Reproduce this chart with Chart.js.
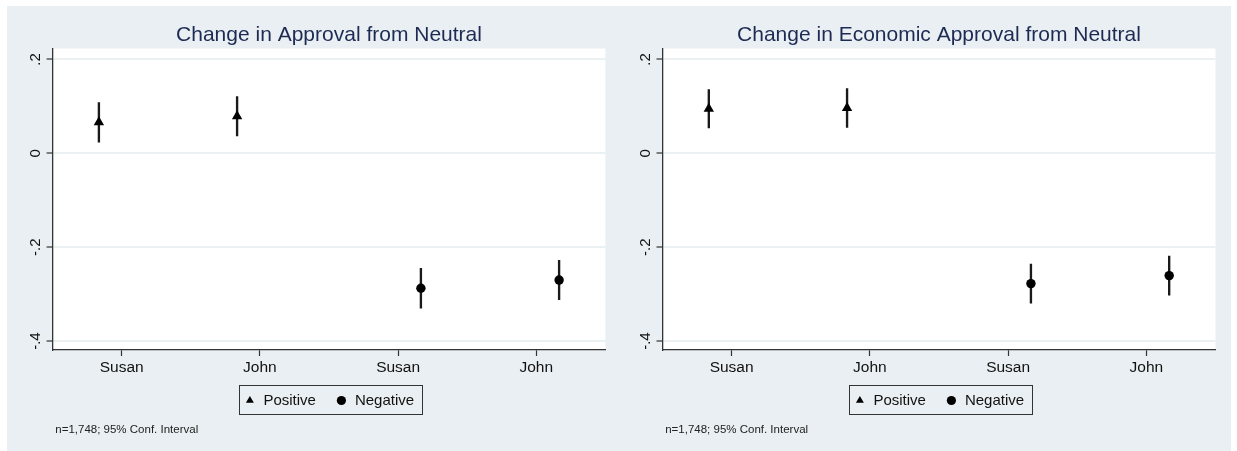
<!DOCTYPE html>
<html>
<head>
<meta charset="utf-8">
<script src="https://cdn.jsdelivr.net/npm/chart.js@4.4.1/dist/chart.umd.min.js"></script>
<style>
  html, body { margin: 0; padding: 0; background: #ffffff; overflow: hidden; width: 1237px; height: 451px; }
  #backdrop { position: absolute; left: 7px; top: 6px; width: 1224px; height: 445px; background: #e9eff2; }
  canvas { position: absolute; top: 0; }
  #approval { left: 0; }
  #economic { left: 620px; }
</style>
</head>
<body>
<div id="backdrop"></div>
<canvas id="approval" width="658" height="451"></canvas>
<canvas id="economic" width="638" height="451"></canvas>
<script>
// Category labels along the bottom axis (first two: Positive, last two: Negative)
const categories = ['Susan', 'John', 'Susan', 'John'];
const yTickValues = [-0.4, -0.2, 0, 0.2];
const yTickLabels = ['-.4', '-.2', '0', '.2'];
const seriesNames = ['Positive', 'Negative'];
const noteText = 'n=1,748; 95% Conf. Interval';

// Change in Approval from Neutral: point estimates and 95% CI bounds
const approvalPositive = [0.066, 0.079];
const approvalPositiveLow = [0.024, 0.037];
const approvalPositiveHigh = [0.108, 0.121];
const approvalNegative = [-0.2875, -0.270];
const approvalNegativeLow = [-0.330, -0.312];
const approvalNegativeHigh = [-0.245, -0.228];

// Change in Economic Approval from Neutral
const econPositive = [0.095, 0.0965];
const econPositiveLow = [0.054, 0.055];
const econPositiveHigh = [0.136, 0.138];
const econNegative = [-0.2775, -0.2605];
const econNegativeLow = [-0.319, -0.302];
const econNegativeHigh = [-0.236, -0.219];

const FONT = "'Liberation Sans', Arial, Helvetica, sans-serif";
const INK = '#111111';
const AXIS = '#333333';
const SHIFT = 0.165;   // horizontal nudge of each marker away from its category tick

// White plot region, rotated y labels, framed legend and the footnote
const panelDecor = {
  id: 'panelDecor',
  beforeDraw(chart) {
    const { ctx, chartArea: a } = chart;
    ctx.save();
    ctx.fillStyle = '#ffffff';
    ctx.fillRect(a.left, a.top, a.right - a.left, a.bottom - a.top);
    ctx.restore();
  },
  afterDraw(chart) {
    const { ctx, chartArea: a } = chart;
    const ys = chart.scales.y;
    ctx.save();
    ctx.fillStyle = INK;
    ctx.font = '15px ' + FONT;
    ctx.textAlign = 'center';
    ctx.textBaseline = 'alphabetic';
    ys.ticks.forEach(t => {
      const py = ys.getPixelForValue(t.value);
      const label = yTickLabels[yTickValues.indexOf(t.value)];
      ctx.save();
      ctx.translate(a.left - 12.5, py);
      ctx.rotate(-Math.PI / 2);
      ctx.fillText(label, 0, 0);
      ctx.restore();
    });

    const boxes = chart.legend.legendHitBoxes;
    if (boxes && boxes.length) {
      const left = Math.min(...boxes.map(b => b.left)) - 4.5;
      const right = Math.max(...boxes.map(b => b.left + b.width)) + 8;
      const mid = boxes[0].top + 7.5;
      const top = mid - 15.5;
      const bottom = mid + 13.5;
      ctx.strokeStyle = AXIS;
      ctx.lineWidth = 1;
      ctx.strokeRect(Math.round(left) + 0.5, Math.round(top) + 0.5, Math.round(right - left), Math.round(bottom - top));
    }

    ctx.font = '11.5px ' + FONT;
    ctx.textAlign = 'left';
    ctx.fillStyle = '#222222';
    ctx.fillText(noteText, a.left + 2.7, 433.3);
    ctx.restore();
  }
};

function buildPanel(canvasId, title, pos, posLo, posHi, neg, negLo, negHi, sideWidth) {
  const posX = pos.map((_, i) => i + 1 - SHIFT);
  const negX = neg.map((_, i) => i + 3 + SHIFT);
  const intervals = posX.map((x, i) => ({ x, y: [posLo[i], posHi[i]] }))
    .concat(negX.map((x, i) => ({ x, y: [negLo[i], negHi[i]] })));

  return new Chart(document.getElementById(canvasId), {
    type: 'scatter',
    data: {
      datasets: [
        {
          label: seriesNames[0],
          data: posX.map((x, i) => ({ x, y: pos[i] })),
          pointStyle: 'triangle',
          pointRadius: 6,
          backgroundColor: '#000000',
          borderColor: '#000000',
          borderWidth: 0,
          order: 0
        },
        {
          label: seriesNames[1],
          data: negX.map((x, i) => ({ x, y: neg[i] })),
          pointStyle: 'circle',
          pointRadius: 4.7,
          backgroundColor: '#000000',
          borderColor: '#000000',
          borderWidth: 0,
          order: 0
        },
        {
          type: 'bar',
          label: 'ci',
          data: intervals,
          backgroundColor: '#1a1a1a',
          borderWidth: 0,
          barThickness: 1.7,
          order: 5
        }
      ]
    },
    options: {
      responsive: false,
      animation: false,
      events: [],
      devicePixelRatio: 1,
      layout: { padding: { top: 0, left: 0, right: 0, bottom: 33 } },
      plugins: {
        title: {
          display: true,
          text: title,
          color: '#1d2b53',
          font: { family: FONT, size: 21, weight: 'normal' },
          padding: { top: 22.5, bottom: 0.8 }
        },
        legend: {
          display: true,
          position: 'bottom',
          labels: {
            usePointStyle: true,
            boxWidth: 12,
            boxHeight: 6.5,
            padding: 19.5,
            color: INK,
            font: { family: FONT, size: 15 },
            filter: item => item.datasetIndex < 2
          }
        },
        tooltip: { enabled: false }
      },
      scales: {
        x: {
          type: 'linear',
          min: 0.5,
          max: 4.5,
          offset: false,
          afterBuildTicks: s => { s.ticks = categories.map((_, i) => ({ value: i + 1 })); },
          ticks: {
            callback: v => categories[Math.round(v) - 1],
            color: INK,
            font: { family: FONT, size: 15.5 },
            padding: 2,
            maxRotation: 0,
            autoSkip: false
          },
          grid: {
            display: true,
            drawOnChartArea: false,
            drawTicks: true,
            tickLength: 6,
            tickColor: AXIS,
            tickWidth: 1.2,
            offset: false
          },
          border: { display: true, color: AXIS, width: 1.3 },
          afterFit: s => { s.height = 23.5; }
        },
        y: {
          type: 'linear',
          position: 'left',
          min: -0.419,
          max: 0.2234,
          afterBuildTicks: s => { s.ticks = yTickValues.map(v => ({ value: v })); },
          ticks: { display: false },
          grid: {
            color: '#ebf1f3',
            lineWidth: 2,
            drawTicks: true,
            tickLength: 6,
            tickColor: AXIS,
            tickWidth: 1.2
          },
          border: { display: true, color: AXIS, width: 1.3 },
          afterFit: s => { s.width = sideWidth; }
        },
        yMirror: {
          type: 'linear',
          position: 'right',
          display: true,
          ticks: { display: false },
          grid: { display: false },
          border: { display: false },
          afterFit: s => { s.width = sideWidth; }
        }
      }
    },
    plugins: [panelDecor]
  });
}

buildPanel('approval', 'Change in Approval from Neutral',
  approvalPositive, approvalPositiveLow, approvalPositiveHigh,
  approvalNegative, approvalNegativeLow, approvalNegativeHigh, 52.6);

buildPanel('economic', 'Change in Economic Approval from Neutral',
  econPositive, econPositiveLow, econPositiveHigh,
  econNegative, econNegativeLow, econNegativeHigh, 42.5);
</script>
</body>
</html>
